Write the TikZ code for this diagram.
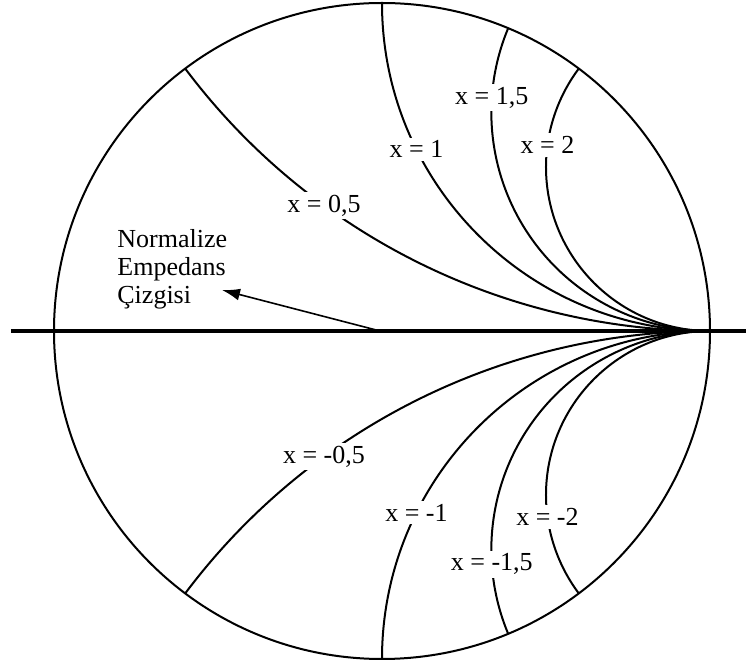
\documentclass[tikz,border=0pt]{standalone}
\usepackage{fontspec}
\setmainfont{Liberation Serif}
\usetikzlibrary{arrows.meta}

\begin{document}
\begin{tikzpicture}[x=0.5pt, y=0.5pt, font=\fontsize{13}{14}\selectfont,
    reactance/.style={line width=1pt},
    xlabel/.style={fill=white, inner sep=1.5pt}]
    \useasboundingbox (-382,-337) rectangle (364,331);

    % Unit circle and real axis
    \draw[line width=1pt] (0,0) circle (328);
    \draw[line width=2pt] (-371,0) -- (364,0);

    % Reactance arcs, upper (x > 0) and lower (x < 0) half
    \foreach \x/\ang/\lab [count=\i] in {0.5/-126.05/{0,5}, 1/-153.5/1, 1.5/-183.8/{1,5}, 2/-187.7/2} {
        \draw[reactance] (328,0) arc[start angle=-90, end angle={-180-atan((\x*\x-1)/(2*\x))}, radius={328/\x}];
        \draw[reactance] (328,0) arc[start angle=90, end angle={180+atan((\x*\x-1)/(2*\x))}, radius={328/\x}];
        \node[xlabel] (xp\i) at ({328+328/\x*cos(\ang)}, {328/\x*(1+sin(\ang))}) {x = \lab};
        \node[xlabel] (xn\i) at ({328+328/\x*cos(\ang)}, {-328/\x*(1+sin(\ang))}) {x = -\lab};
    }

    % Label with arrow
    \node[align=left, anchor=north west, inner sep=0pt] (imp) at (-265,102) {Normalize\\Empedans\\Çizgisi};
    \coordinate (tail) at (-2,0);
    \coordinate (tip) at (-160,41);
    \draw[line width=0.8pt, -{Latex[length=9pt, width=6pt]}] (tail) -- (tip);
\end{tikzpicture}
\end{document}
